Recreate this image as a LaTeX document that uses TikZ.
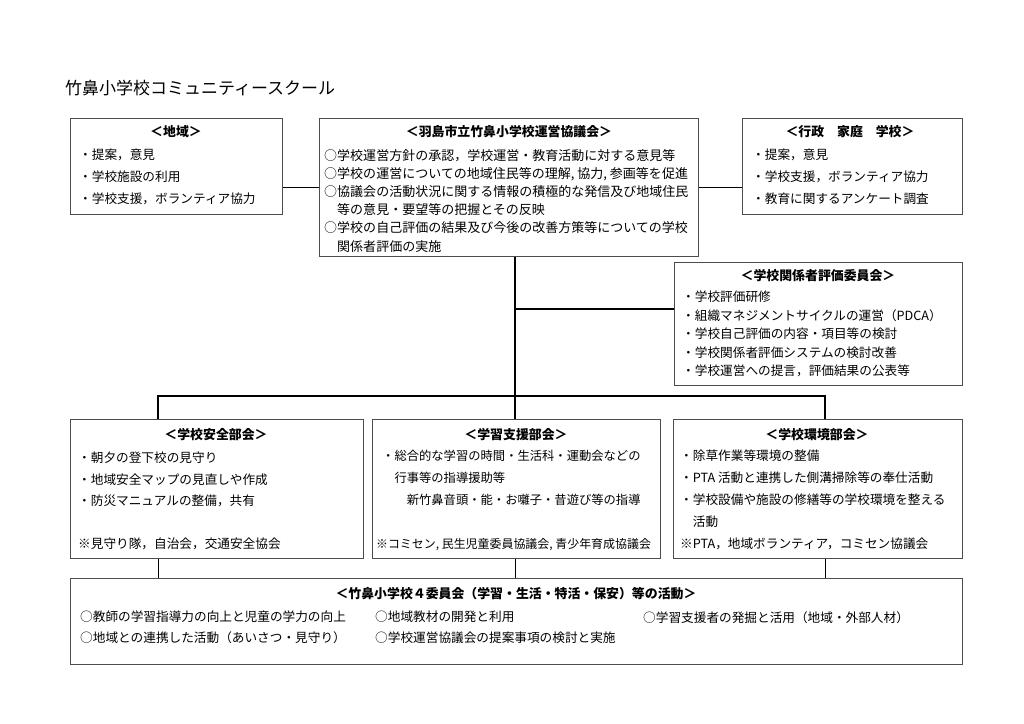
\documentclass[tikz,border=0pt]{standalone}
\usepackage{fontspec}
\setmainfont{Noto Sans CJK JP}

\tikzset{
  box/.style={draw=black!70,line width=0.3mm,inner sep=0pt,anchor=north west},
  head/.style={inner sep=0pt,font=\fontsize{11}{13}\selectfont\bfseries},
  body/.style={anchor=north west,inner sep=0pt,align=left,font=\fontsize{10.8}{18.7}\selectfont},
  link/.style={line width=0.55mm},
  thinlink/.style={line width=0.3mm}
}

\begin{document}
\begin{tikzpicture}[x=0.3mm,y=-0.3mm]
\fill[white] (0,0) rectangle (1024,724);
\useasboundingbox (0,0) rectangle (1024,724);

\node[anchor=west,inner sep=0pt,font=\fontsize{14.5}{17}\selectfont] (title) at (65,88) {竹鼻小学校コミュニティースクール};

% top row
\node[box,minimum width=63.6mm,minimum height=28.8mm] (chiiki) at (70,118) {};
\node[head] (chiikiH) at (176,132) {＜地域＞};
\node[body] (chiikiB) at (79,149) {・提案，意見\\・学校施設の利用\\・学校支援，ボランティア協力};

\node[box,minimum width=113.7mm,minimum height=41.4mm] (kyogikai) at (319,118) {};
\node[head] (kyogikaiH) at (509,132) {＜羽島市立竹鼻小学校運営協議会＞};
\node[body,font=\fontsize{11.1}{15.5}\selectfont] (kyogikaiB) at (324,149) {○学校運営方針の承認，学校運営・教育活動に対する意見等\\○学校の運営についての地域住民等の理解, 協力, 参画等を促進\\○協議会の活動状況に関する情報の積極的な発信及び地域住民\\\hspace*{1em}等の意見・要望等の把握とその反映\\○学校の自己評価の結果及び今後の改善方策等についての学校\\\hspace*{1em}関係者評価の実施};

\node[box,minimum width=66mm,minimum height=28.8mm] (gyosei) at (742,118) {};
\node[head] (gyoseiH) at (850,132) {＜行政　家庭　学校＞};
\node[body] (gyoseiB) at (752,149) {・提案，意見\\・学校支援，ボランティア協力\\・教育に関するアンケート調査};

% evaluation committee
\node[box,minimum width=86.4mm,minimum height=36.9mm] (hyoka) at (674,262) {};
\node[head] (hyokaH) at (818,276) {＜学校関係者評価委員会＞};
\node[body,font=\fontsize{10.8}{15.7}\selectfont] (hyokaB) at (682,291) {・学校評価研修\\・組織マネジメントサイクルの運営（PDCA）\\・学校自己評価の内容・項目等の検討\\・学校関係者評価システムの検討改善\\・学校運営への提言，評価結果の公表等};

% three sections
\node[box,minimum width=87.9mm,minimum height=41.7mm] (anzen) at (70,419) {};
\node[head] (anzenH) at (216,435) {＜学校安全部会＞};
\node[body,font=\fontsize{10.8}{18.3}\selectfont] (anzenB) at (78,452) {・朝夕の登下校の見守り\\・地域安全マップの見直しや作成\\・防災マニュアルの整備，共有\\[18.3pt]※見守り隊，自治会，交通安全協会};

\node[box,minimum width=86.4mm,minimum height=41.7mm] (gakushu) at (372,419) {};
\node[head] (gakushuH) at (516,435) {＜学習支援部会＞};
\node[body,font=\fontsize{10.5}{18.7}\selectfont] (gakushuB) at (382,450) {・総合的な学習の時間・生活科・運動会などの\\\hspace*{1em}行事等の指導援助等\\\hspace*{2em}新竹鼻音頭・能・お囃子・昔遊び等の指導\\[18.7pt]\hspace*{-0.5em}{\fontsize{10.2}{18.7}\selectfont ※コミセン, 民生児童委員協議会, 青少年育成協議会}};

\node[box,minimum width=86.7mm,minimum height=41.7mm] (kankyo) at (673,419) {};
\node[head] (kankyoH) at (817,435) {＜学校環境部会＞};
\node[body] (kankyoB) at (680,450) {・除草作業等環境の整備\\・PTA 活動と連携した側溝掃除等の奉仕活動\\・学校設備や施設の修繕等の学校環境を整える\\\hspace*{1em}活動\\※PTA，地域ボランティア，コミセン協議会};

% bottom box
\node[box,minimum width=267.6mm,minimum height=25.8mm] (iinkai) at (70,578) {};
\node[head] (iinkaiH) at (516,594) {＜竹鼻小学校４委員会（学習・生活・特活・保安）等の活動＞};
\node[body,font=\fontsize{10.8}{17.9}\selectfont] (iinkaiA) at (80,611) {○教師の学習指導力の向上と児童の学力の向上\\○地域との連携した活動（あいさつ・見守り）};
\node[body,font=\fontsize{10.8}{17.9}\selectfont] (iinkaiB) at (375,611) {○地域教材の開発と利用\\○学校運営協議会の提案事項の検討と実施};
\node[body,font=\fontsize{10.8}{17.9}\selectfont] (iinkaiC) at (643,611) {○学習支援者の発掘と活用（地域・外部人材）};

% connectors
\coordinate (trunk) at (515,396);
\coordinate (branch) at (515,309);
\coordinate (barL) at (158,396);
\coordinate (barR) at (825,396);
\draw[link] (chiiki.east |- kyogikai.west) -- (kyogikai.west);
\draw[link] (kyogikai.east) -- (kyogikai.east -| gyosei.west);
\draw[link] (kyogikai.south -| trunk) -- (trunk) -- (gakushu.north -| trunk);
\draw[link] (branch) -- (branch -| hyoka.west);
\draw[link] (anzen.north -| barL) -- (barL) -- (barR) -- (kankyo.north -| barR);
\draw[thinlink] (anzen.south -| barL) -- (iinkai.north -| barL);
\draw[thinlink] (gakushu.south -| trunk) -- (iinkai.north -| trunk);
\draw[thinlink] (kankyo.south -| barR) -- (iinkai.north -| barR);
\end{tikzpicture}
\end{document}
